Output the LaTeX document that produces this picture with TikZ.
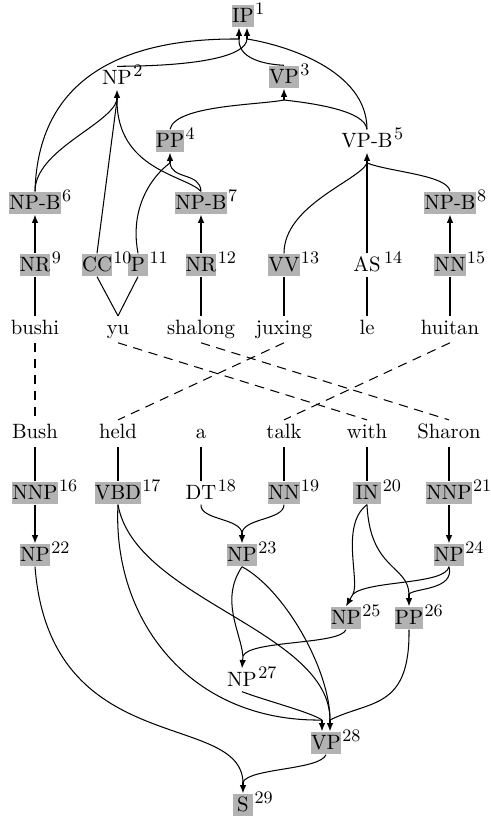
\documentclass[tikz,border=0pt]{standalone}
\usetikzlibrary{arrows.meta}
\begin{document}
\begin{tikzpicture}[x=0.483pt,y=-0.483pt,line width=0.5pt,
  lab/.style={inner xsep=0pt,inner ysep=1.5pt,text height=7pt,text depth=0.8pt},
  gbox/.style={lab,fill=black!30,minimum width=9.8pt},
  word/.style={inner xsep=0pt,inner ysep=1.5pt,text height=7pt,text depth=2.5pt,anchor=base},
  supnum/.style={anchor=base west,inner xsep=0.2pt,inner ysep=0pt,
    font=\fontsize{8.5pt}{10pt}\selectfont,yshift=4pt},
  arr/.style={-{Latex[length=4pt,width=3.2pt]}},
  align/.style={dash pattern=on 4.5pt off 3.2pt}]
\useasboundingbox (0,0) rectangle (490,818);

% ---------- Chinese-side forest ----------
\node[gbox] (ip)   at (243,16)  {IP};
\node[lab]  (np2)  at (117,78)  {NP};
\node[gbox] (vp3)  at (284,77)  {VP};
\node[gbox] (pp4)  at (170,141) {PP};
\node[lab]  (vpb5) at (367,141) {VP-B};
\node[gbox] (npb6) at (35,203)  {NP-B};
\node[gbox] (npb7) at (201,203) {NP-B};
\node[gbox] (npb8) at (450,203) {NP-B};
\node[gbox] (nr9)  at (35,265)  {NR};
\node[gbox] (cc10) at (97,265)  {CC};
\node[gbox] (p11)  at (138,265) {P};
\node[gbox] (nr12) at (201,265) {NR};
\node[gbox] (vv13) at (284,265) {VV};
\node[lab]  (as14) at (367,265) {AS};
\node[gbox] (nn15) at (450,265) {NN};

\node[supnum] at (ip.base east)   {1};
\node[supnum] at (np2.base east)  {2};
\node[supnum] at (vp3.base east)  {3};
\node[supnum] at (pp4.base east)  {4};
\node[supnum] at (vpb5.base east) {5};
\node[supnum] at (npb6.base east) {6};
\node[supnum] at (npb7.base east) {7};
\node[supnum] at (npb8.base east) {8};
\node[supnum] at (nr9.base east)  {9};
\node[supnum] at (cc10.base east) {10};
\node[supnum] at (p11.base east)  {11};
\node[supnum] at (nr12.base east) {12};
\node[supnum] at (vv13.base east) {13};
\node[supnum,xshift=1pt] at (as14.base east) {14};
\node[supnum] at (nn15.base east) {15};

% source words
\node[word] (bushi)   at (35,334)  {bushi};
\node[word] (yu)      at (118,334) {yu};
\node[word] (shalong) at (201,334) {shalong};
\node[word] (juxing)  at (284,334) {juxing};
\node[word] (le)      at (367,334) {le};
\node[word] (huitan)  at (450,334) {huitan};

% target words
\node[word] (bush)   at (35,438)  {Bush};
\node[word] (held)   at (118,438) {held};
\node[word] (a)      at (201,438) {a};
\node[word] (talk)   at (284,438) {talk};
\node[word] (with)   at (367,438) {with};
\node[word] (sharon) at (449,438) {Sharon};

% ---------- English-side forest ----------
\node[gbox] (nnp16) at (35,493)  {NNP};
\node[gbox] (vbd17) at (118,493) {VBD};
\node[lab]  (dt18)  at (201,493) {DT};
\node[gbox] (nn19)  at (284,493) {NN};
\node[gbox,minimum width=14pt] (in20) at (367,493) {IN};
\node[gbox] (nnp21) at (449,493) {NNP};
\node[gbox] (np22)  at (35,555)  {NP};
\node[gbox] (np23)  at (242,555) {NP};
\node[gbox] (np24)  at (449,555) {NP};
\node[gbox] (np25)  at (346,618) {NP};
\node[gbox] (pp26)  at (409,618) {PP};
\node[lab]  (np27)  at (242,680) {NP};
\node[gbox] (vp28)  at (326,743) {VP};
\node[gbox] (s29)   at (243,805) {S};

\node[supnum] at (nnp16.base east) {16};
\node[supnum] at (vbd17.base east) {17};
\node[supnum] at (dt18.base east)  {18};
\node[supnum] at (nn19.base east)  {19};
\node[supnum] at (in20.base east)  {20};
\node[supnum] at (nnp21.base east) {21};
\node[supnum] at (np22.base east)  {22};
\node[supnum] at (np23.base east)  {23};
\node[supnum] at (np24.base east)  {24};
\node[supnum] at (np25.base east)  {25};
\node[supnum] at (pp26.base east)  {26};
\node[supnum] at (np27.base east)  {27};
\node[supnum] at (vp28.base east)  {28};
\node[supnum] at (s29.base east)   {29};

% ---------- word attachments ----------
\draw (bushi.north)   -- (nr9.south);
\draw (yu.north)      -- (cc10.south);
\draw (yu.north)      -- (p11.south);
\draw (shalong.north) -- (nr12.south);
\draw (juxing.north)  -- (vv13.south);
\draw (le.north)      -- (as14.south);
\draw (huitan.north)  -- (nn15.south);

\draw (bush.south)   -- (nnp16.north);
\draw (held.south)   -- (vbd17.north);
\draw (a.south)      -- (dt18.north);
\draw (talk.south)   -- (nn19.north);
\draw (with.south)   -- (in20.north);
\draw (sharon.south) -- (nnp21.north);

% word alignment
\draw[align] (bushi.south)   -- (bush.north);
\draw[align] (yu.south)      -- (with.north);
\draw[align] (shalong.south) -- (sharon.north);
\draw[align] (juxing.south)  -- (held.north);
\draw[align] (huitan.south)  -- (talk.north);

% ---------- hyperedges, Chinese side ----------
\draw[arr] (nr9.north)  -- (npb6.south);
\draw[arr] (nr12.north) -- (npb7.south);
\draw[arr] (nn15.north) -- (npb8.south);

\coordinate (m6) at (367,163);
\draw (vv13.north) .. controls (284,205) and (360,180) .. (m6);
\draw (as14.north) -- (m6);
\draw (npb8.north) .. controls (448,175) and (390,172) .. (m6);
\draw[arr] (m6) -- (vpb5.south);

\coordinate (m4) at (170,163);
\draw (npb7.north) .. controls (200,172) and (172,180) .. (m4);
\draw (p11.north) .. controls (128,200) and (160,170) .. (m4);
\draw[arr] (m4) -- (pp4.south);

\coordinate (m3) at (117,100);
\draw (npb6.north) .. controls (35,150) and (110,125) .. (m3);
\draw (cc10.north) -- (m3);
\draw (npb7.north) .. controls (185,175) and (117,170) .. (m3);
\draw[arr] (m3) -- (np2.south);

\coordinate (m5) at (284,100);
\draw (pp4.north) .. controls (175,105) and (260,105) .. (m5);
\draw (vpb5.north) .. controls (365,110) and (310,103) .. (m5);
\draw[arr] (m5) -- (vp3.south);

\coordinate (m1) at (239,39);
\coordinate (m2) at (247,39);
\draw (npb6.north) .. controls (38,80) and (120,38) .. (m1);
\draw (vp3.north) .. controls (258,64) and (238,56) .. (m1);
\draw (np2.north) .. controls (200,66) and (246,56) .. (m2);
\draw (vpb5.north) .. controls (367,70) and (285,45) .. (m2);
\draw[arr] (m1) -- (m1 |- ip.south);
\draw[arr] (m2) -- (m2 |- ip.south);

% ---------- hyperedges, English side ----------
\draw[arr] (nnp16.south) -- (np22.north);
\draw[arr] (nnp21.south) -- (np24.north);

\coordinate (m7) at (242,533);
\draw (dt18.south) .. controls (200,520) and (240,518) .. (m7);
\draw (nn19.south) .. controls (284,520) and (244,518) .. (m7);
\draw[arr] (m7) -- (np23.north);

\coordinate (m8) at (353,594);
\draw (in20.south) .. controls (340,525) and (360,580) .. (m8);
\draw (np24.south) .. controls (445,585) and (370,580) .. (m8);
\draw[arr] (m8) -- (np25.north);

\coordinate (m9) at (409,594);
\draw (in20.south) .. controls (370,570) and (408,565) .. (m9);
\draw (np24.south) .. controls (455,590) and (415,588) .. (m9);
\draw[arr] (m9) -- (pp26.north);

\coordinate (m10) at (243,656);
\draw (np23.south) .. controls (220,600) and (240,630) .. (m10);
\draw (np25.south) .. controls (340,645) and (250,640) .. (m10);
\draw[arr] (m10) -- (np27.north);

\coordinate (m11) at (322,720);
\coordinate (m12) at (330,720);
\draw (vbd17.south) .. controls (112,620) and (190,722) .. (m11);
\draw (np27.south) .. controls (270,702) and (310,712) .. (m11);
\draw (vbd17.south) .. controls (135,600) and (330,630) .. (m12);
\draw (np23.south) .. controls (285,590) and (330,670) .. (m12);
\draw (pp26.south) .. controls (410,710) and (370,700) .. (m12);
\draw[arr] (m11) -- (m11 |- vp28.north);
\draw[arr] (m12) -- (m12 |- vp28.north);

\coordinate (m13) at (243,782);
\draw (np22.south) .. controls (50,760) and (240,710) .. (m13);
\draw (vp28.south) .. controls (320,770) and (250,768) .. (m13);
\draw[arr] (m13) -- (s29.north);
\end{tikzpicture}
\end{document}
